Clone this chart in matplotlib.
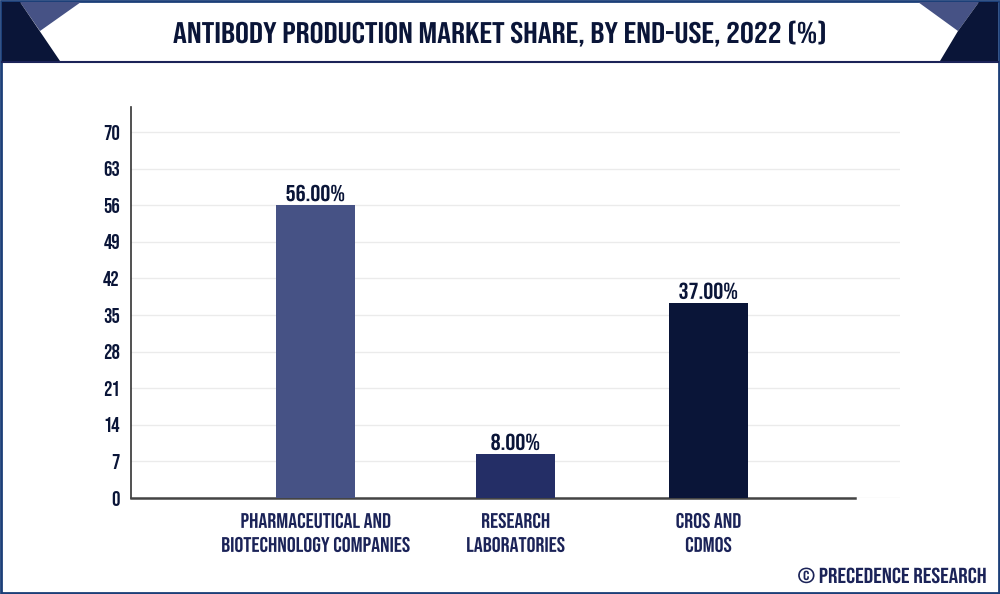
import matplotlib
matplotlib.use('Agg')
import matplotlib.pyplot as plt
from matplotlib.patches import Polygon, Rectangle
from matplotlib.patheffects import AbstractPathEffect
from matplotlib.transforms import Affine2D

categories = ['PHARMACEUTICAL AND\nBIOTECHNOLOGY COMPANIES', 'RESEARCH\nLABORATORIES', 'CROS AND\nCDMOS']
values = [56.0, 8.4, 37.3]
value_labels = ['56.00%', '8.00%', '37.00%']
bar_colors = ['#465285', '#242e66', '#0a1538']
yticks = [0, 7, 14, 21, 28, 35, 42, 49, 56, 63, 70]
title = 'ANTIBODY PRODUCTION MARKET SHARE, BY END-USE, 2022 (%)'
credit = '© PRECEDENCE RESEARCH'

NAVY = '#0a1538'
INK = '#1b2358'
plt.rcParams['font.family'] = ['Bebas Neue', 'Liberation Sans', 'DejaVu Sans']


class Squash(AbstractPathEffect):
    # the reference font is tracked out, so draw wider text and flatten it
    def __init__(self, sy):
        super().__init__()
        self.sy = sy

    def draw_path(self, renderer, gc, tpath, affine, rgbFace=None):
        renderer.draw_path(gc, tpath, Affine2D().scale(1, self.sy) + affine, rgbFace)


W, H = 1000, 594
fig = plt.figure(figsize=(W / 100, H / 100), dpi=100, facecolor='white')

# frame and header corners, in pixels
bg = fig.add_axes([0, 0, 1, 1], zorder=0)
bg.set_xlim(0, W)
bg.set_ylim(H, 0)
bg.axis('off')
bg.add_patch(Rectangle((1, 1), W - 2, H - 2, fill=False, ec='#1c3f78', lw=2))
bg.plot([2, 998], [61.5, 61.5], color=INK, lw=1.5)
bg.add_patch(Polygon([(20, 2), (81, 2), (40, 31)], color='#465285', lw=0))
bg.add_patch(Polygon([(2, 2), (20, 2), (60, 61), (2, 61)], color=NAVY, lw=0))
bg.add_patch(Polygon([(918, 2), (979, 2), (958, 31)], color='#465285', lw=0))
bg.add_patch(Polygon([(979, 2), (998, 2), (998, 61), (940, 61), (958, 31)], color=NAVY, lw=0))
bg.text(499, 43, title, fontsize=25, color=NAVY, ha='center', va='baseline',
        path_effects=[Squash(0.86)])
bg.text(987, 583, credit, fontsize=17, color=INK, ha='right', va='baseline',
        path_effects=[Squash(0.92)])

# plot area 131..900 x 107..498 px
ax = fig.add_axes([131 / W, 1 - 498 / H, 769 / W, 391 / H], zorder=1)
ax.patch.set_alpha(0)
x = [0, 1.018, 2]
ax.bar(x, values, width=0.402, color=bar_colors, zorder=3)
ax.set_xlim(-0.939, 2.975)
ax.set_ylim(0, 74.8)

ax.set_yticks(yticks)
ax.set_yticklabels([str(t) for t in yticks], fontsize=15, color=NAVY)
ax.set_xticks(x)
ax.set_xticklabels(categories, fontsize=16, color=INK, linespacing=1.5,
                   path_effects=[Squash(0.95)])
ax.tick_params(axis='y', length=0, pad=8)
ax.tick_params(axis='x', length=0, pad=10)
ax.grid(axis='y', color='#ebebeb', lw=1, zorder=0)
ax.set_axisbelow(True)

for s in ['top', 'right']:
    ax.spines[s].set_visible(False)
ax.spines['left'].set_color('#333333')
ax.spines['left'].set_linewidth(1.2)
ax.spines['bottom'].set_color('#444444')
ax.spines['bottom'].set_linewidth(1.8)
ax.spines['bottom'].set_bounds(-0.939, 2.746)

for xi, v, lab in zip(x, values, value_labels):
    ax.annotate(lab, (xi, v), xytext=(0, 3), textcoords='offset points', fontsize=18,
                color=NAVY, ha='center', va='baseline', zorder=4,
                path_effects=[Squash(0.92)])

fig.savefig('out.png', dpi=100)
